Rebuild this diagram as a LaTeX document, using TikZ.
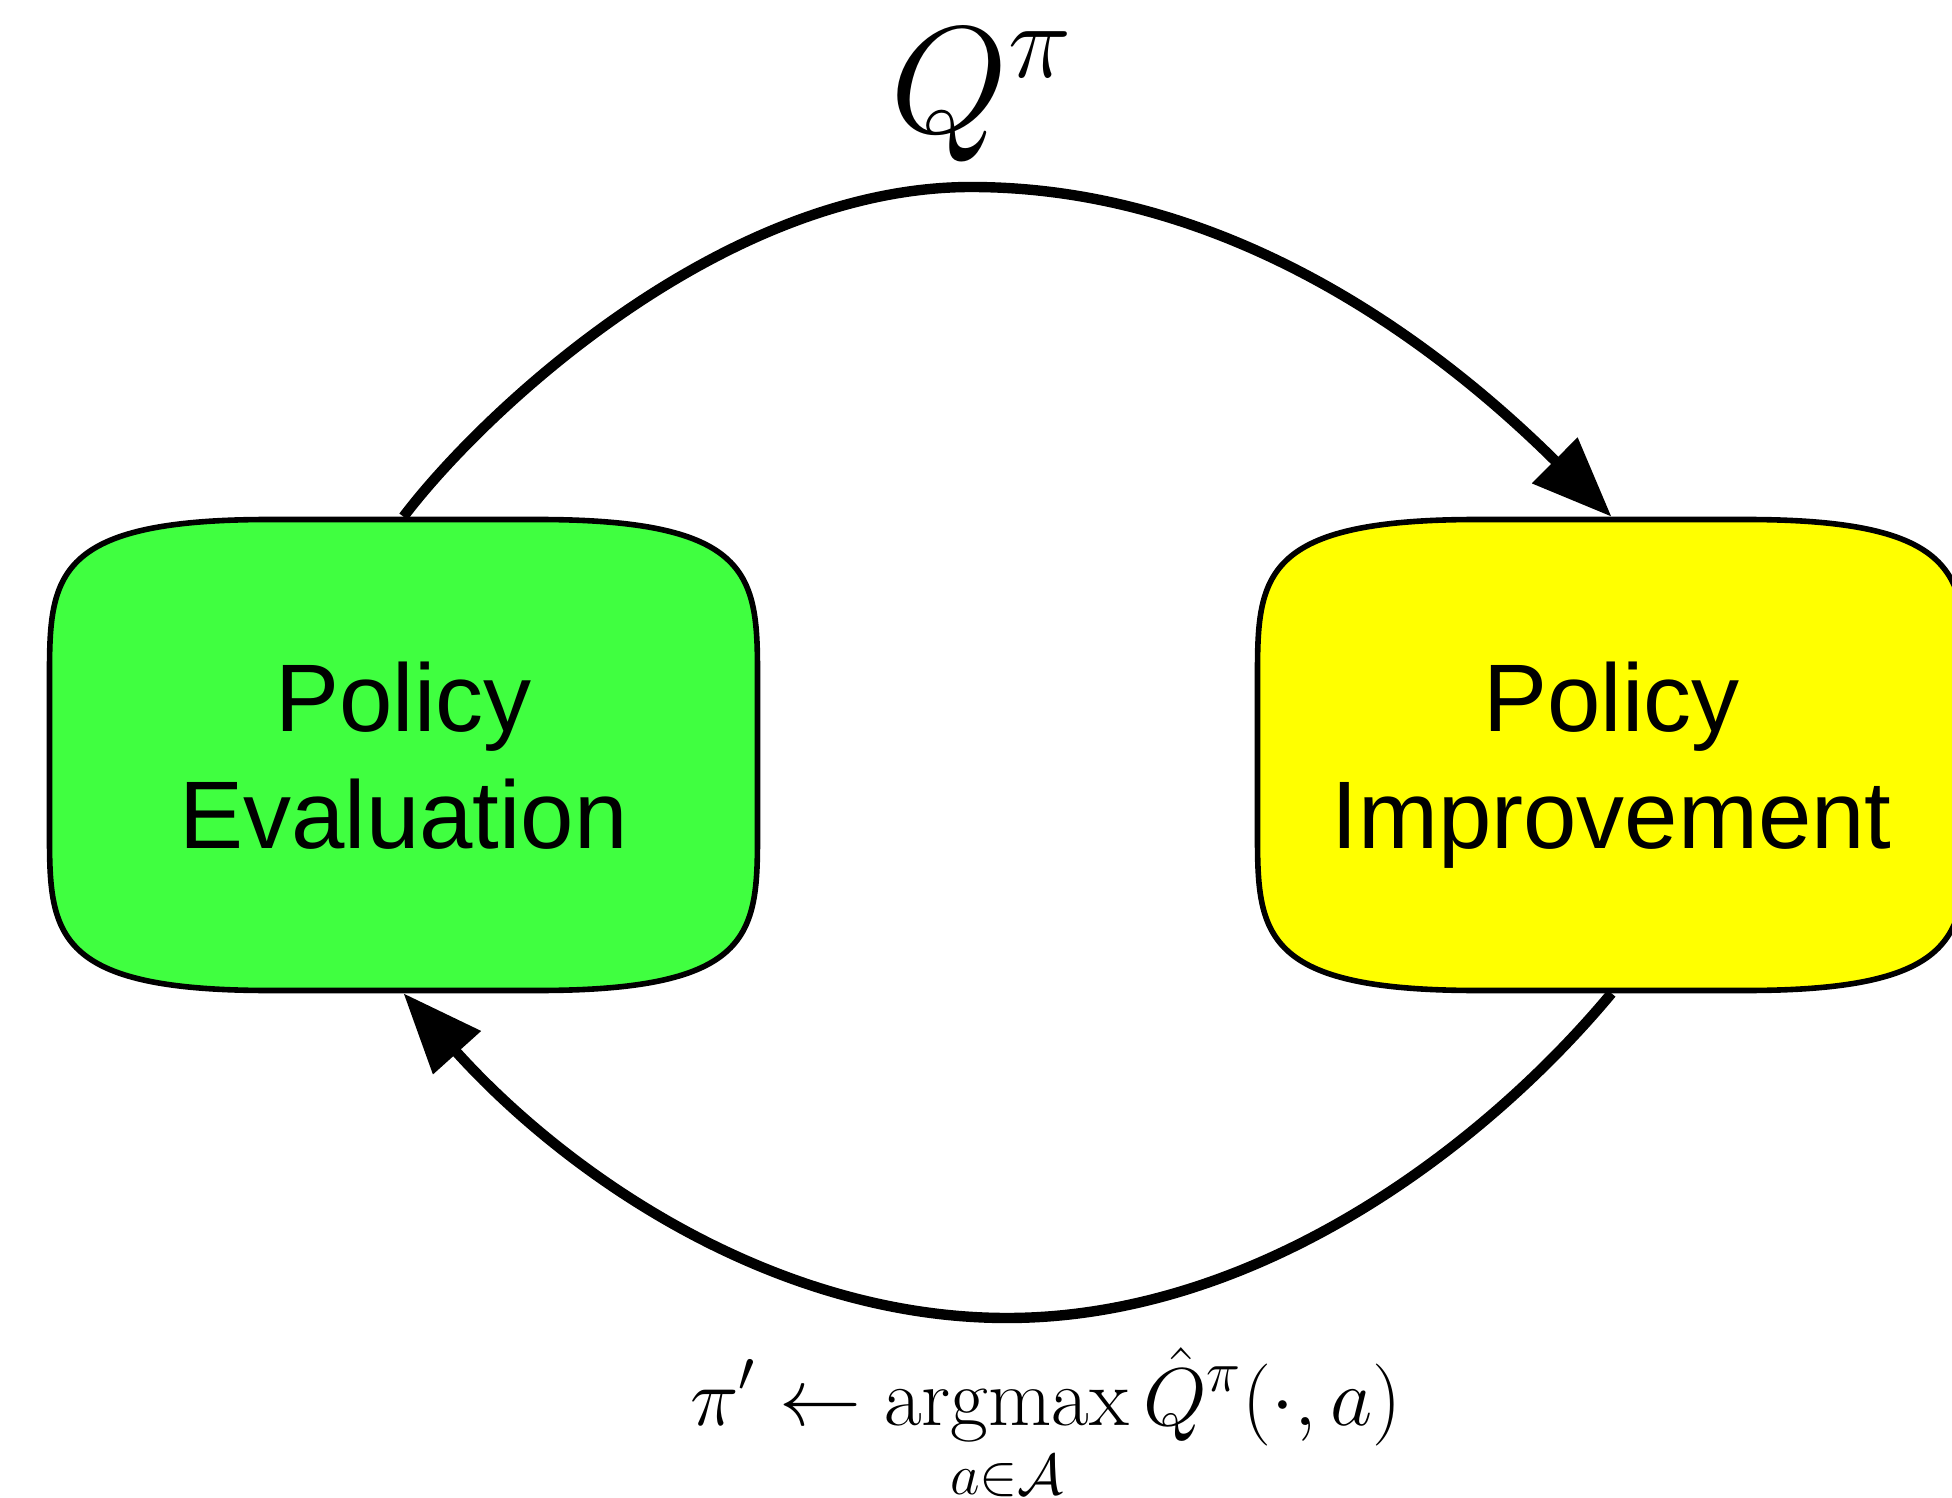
\RequirePackage{fix-cm}
\documentclass[tikz,border=0pt]{standalone}
\usepackage{amsmath}
\usepackage{fontspec}
\newfontfamily\boxfont{Liberation Sans}
\usetikzlibrary{arrows.meta}
\definecolor{evalgreen}{RGB}{64,255,64}
\definecolor{impyellow}{RGB}{255,255,0}
\tikzset{
  procbox/.style={shape=rectangle, inner sep=0pt, outer sep=0.7pt,
    minimum width=177pt, minimum height=117.75pt, align=center,
    text depth=0pt, font=\boxfont\fontsize{24}{29.25}\selectfont},
  boxline/.style={draw=black, line width=1.4pt},
  cyclearrow/.style={line width=2.6pt, -{Triangle[length=20pt,width=15.5pt]}},
  mathlabel/.style={inner sep=0pt, anchor=base}
}
\begin{document}
\begin{tikzpicture}[x=0.25pt,y=-0.25pt]
\useasboundingbox (0,0) rectangle (1952,1498);
% rounded (squircle-like) boxes
\path[boxline, fill=evalgreen]
  (269.5,519.5) -- (537.5,519.5)
  .. controls (752.5,519.5) and (757.5,575.5) .. (757.5,674.5)
  -- (757.5,835.5)
  .. controls (757.5,934.5) and (752.5,990.5) .. (537.5,990.5)
  -- (269.5,990.5)
  .. controls (54.5,990.5) and (49.5,934.5) .. (49.5,835.5)
  -- (49.5,674.5)
  .. controls (49.5,575.5) and (54.5,519.5) .. (269.5,519.5) -- cycle;
\path[boxline, fill=impyellow]
  (1477.5,519.5) -- (1745.5,519.5)
  .. controls (1960.5,519.5) and (1965.5,575.5) .. (1965.5,674.5)
  -- (1965.5,835.5)
  .. controls (1965.5,934.5) and (1960.5,990.5) .. (1745.5,990.5)
  -- (1477.5,990.5)
  .. controls (1262.5,990.5) and (1257.5,934.5) .. (1257.5,835.5)
  -- (1257.5,674.5)
  .. controls (1257.5,575.5) and (1262.5,519.5) .. (1477.5,519.5) -- cycle;
\node[procbox] (evalbox) at (403.5,755) {Policy\\Evaluation};
\node[procbox] (impbox) at (1611.5,755) {Policy\\Improvement};
\coordinate (toppeak) at (971,187);
\coordinate (botpeak) at (1007,1318);
\draw[cyclearrow] (evalbox.north) .. controls (481.8,413.1) and (721,187) .. (toppeak)
  .. controls (1231,187) and (1438.6,345.1) .. (impbox.north);
\draw[cyclearrow] (impbox.south) .. controls (1483,1147.6) and (1257,1318) .. (botpeak)
  .. controls (777,1318) and (570.3,1178.3) .. (evalbox.south);
\node[mathlabel] (qlabel) at (982,133) {\fontsize{38}{46}\selectfont $Q^{\pi}$};
\node[mathlabel] (updatelabel) at (1046,1425) {\fontsize{20.5}{24}\selectfont
  $\displaystyle \pi' \leftarrow \operatorname*{argmax}_{a\in\mathcal{A}} \hat{Q}^{\pi}(\cdot,a)$};
\end{tikzpicture}
\end{document}
